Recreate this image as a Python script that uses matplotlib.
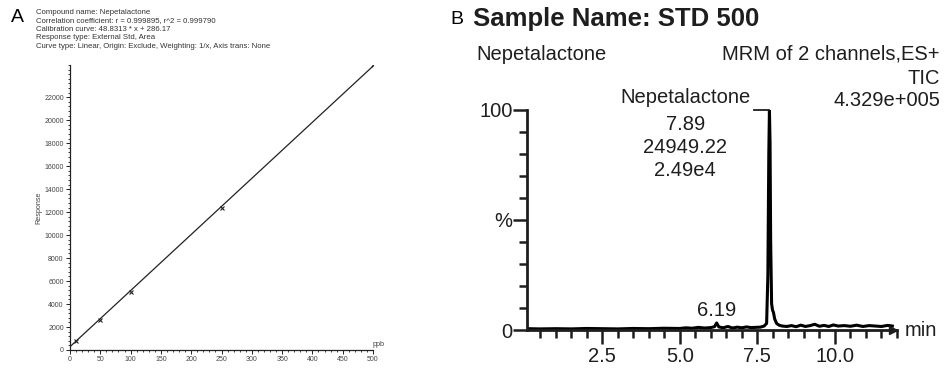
import matplotlib
matplotlib.use("Agg")
import matplotlib.pyplot as plt
import numpy as np
from matplotlib.ticker import MultipleLocator

plt.rcParams["font.family"] = ["Liberation Sans", "DejaVu Sans"]

# ---------- Panel A data ----------
conc_ppb = [10, 50, 100, 250, 500]
response = [780, 2650, 5080, 12380, 24780]
slope = 48.8313
intercept = 286.17
fit_x = [0, 500]
header_lines = [
    "Compound name: Nepetalactone",
    "Correlation coefficient: r = 0.999895, r^2 = 0.999790",
    "Calibration curve: 48.8313 * x + 286.17",
    "Response type: External Std, Area",
    "Curve type: Linear, Origin: Exclude, Weighting: 1/x, Axis trans: None",
]
a_xticks = [0, 50, 100, 150, 200, 250, 300, 350, 400, 450, 500]
a_yticks = [0, 2000, 4000, 6000, 8000, 10000, 12000, 14000, 16000, 18000, 20000, 22000]

# ---------- Panel B data ----------
time_min = [0.1, 0.5, 1.0, 1.5, 2.0, 2.5, 3.0, 3.5, 4.0, 4.5, 5.0, 5.2, 5.4, 5.6,
            5.8, 6.0, 6.12, 6.19, 6.26, 6.4, 6.55, 6.7, 6.85, 7.0, 7.15, 7.3, 7.45,
            7.6, 7.72, 7.8, 7.84, 7.87, 7.89, 7.91, 7.93, 7.96, 7.99, 8.02, 8.06,
            8.12, 8.2, 8.3, 8.45, 8.6, 8.75, 8.9, 9.05, 9.2, 9.35, 9.5, 9.65, 9.8,
            9.95, 10.1, 10.3, 10.5, 10.7, 10.9, 11.1, 11.3, 11.5, 11.7, 11.85]
intensity = [0.6, 0.5, 0.6, 0.5, 0.7, 0.6, 0.5, 0.7, 0.6, 0.8, 0.7, 1.0, 0.8, 1.2,
             0.9, 1.1, 1.5, 3.2, 1.4, 1.0, 1.6, 0.9, 1.3, 1.0, 1.4, 1.1, 1.2,
             1.3, 1.8, 3.0, 25.0, 80.0, 100.0, 85.0, 40.0, 12.0, 9.0, 8.0, 5.0,
             3.0, 2.2, 1.8, 1.6, 2.0, 1.5, 2.2, 1.6, 2.0, 2.6, 1.7, 2.1, 1.6,
             2.3, 1.8, 2.0, 1.7, 2.2, 1.6, 2.0, 1.8, 1.6, 2.1, 1.8]
b_major_ticks = [2.5, 5.0, 7.5, 10.0]
b_tick_labels = ["2.5", "5.0", "7.5", "10.0"]
peak_rt = 7.89
peak_area = "24949.22"
peak_height = "2.49e4"
minor_rt = 6.19

W, H = 945, 368
fig = plt.figure(figsize=(W / 100, H / 100), dpi=100)

def fx(px):
    return px / W

def fy(py):
    return 1 - py / H

# ---------- Panel A ----------
gray = "#444444"
fig.text(fx(11), fy(17), "A", fontsize=14, va="center", ha="left", color="black")
for i, line in enumerate(header_lines):
    fig.text(fx(36), fy(12 + i * 8.6), line, fontsize=5.6, va="center", ha="left", color="#333333")

axA = fig.add_axes([fx(70), fy(350), fx(373) - fx(70), fy(65) - fy(350)])
axA.plot(fit_x, [slope * v + intercept for v in fit_x], color="#222222", lw=0.9)
axA.plot(conc_ppb, response, linestyle="none", marker="x", ms=3.5, mew=0.8, color="#222222")
axA.set_xlim(0, 500)
axA.set_ylim(0, 24800)
axA.spines["top"].set_visible(False)
axA.spines["right"].set_visible(False)
for s in ("left", "bottom"):
    axA.spines[s].set_linewidth(0.9)
    axA.spines[s].set_color("#222222")
axA.set_xticks(a_xticks)
axA.set_yticks(a_yticks)
axA.xaxis.set_minor_locator(MultipleLocator(10))
axA.yaxis.set_minor_locator(MultipleLocator(400))
axA.tick_params(axis="both", which="major", labelsize=5, labelcolor=gray, length=3, width=0.7, pad=1.5, color="#222222")
axA.tick_params(axis="both", which="minor", length=1.6, width=0.6, color="#222222")
axA.set_ylabel("Response", fontsize=5.2, color=gray, labelpad=1)
axA.text(1.0, 0.008, "ppb", transform=axA.transAxes, fontsize=5.2, color=gray, ha="left", va="bottom")

# ---------- Panel B ----------
tc = "#1e1e1e"
fs = 14.5
fig.text(fx(450), fy(19), "B", fontsize=14, va="center", ha="left", color="black")
fig.text(fx(473), fy(19), "Sample Name: STD 500", fontsize=18.5, fontweight="bold",
         va="center", ha="left", color=tc)
fig.text(fx(476), fy(54), "Nepetalactone", fontsize=fs, va="center", ha="left", color=tc)
fig.text(fx(940), fy(54), "MRM of 2 channels,ES+", fontsize=fs, va="center", ha="right", color=tc)
fig.text(fx(940), fy(78), "TIC", fontsize=fs, va="center", ha="right", color=tc)
fig.text(fx(940), fy(100), "4.329e+005", fontsize=fs, va="center", ha="right", color=tc)

x0_px, x1_px = 527, 897
axB = fig.add_axes([fx(x0_px), fy(330), fx(x1_px) - fx(x0_px), fy(110) - fy(330)])
axB.plot(time_min, intensity, color="black", lw=2.2, solid_joinstyle="round")
axB.set_xlim(0.08, 12.0)
axB.set_ylim(0, 100)
axB.spines["top"].set_visible(False)
axB.spines["right"].set_visible(False)
for s in ("left", "bottom"):
    axB.spines[s].set_linewidth(2.0)
    axB.spines[s].set_color(tc)
axB.set_xticks(b_major_ticks)
axB.set_xticklabels(b_tick_labels)
axB.xaxis.set_minor_locator(MultipleLocator(0.5))
axB.set_yticks([0, 50, 100])
axB.set_yticklabels(["0", "%", "100"])
axB.yaxis.set_minor_locator(MultipleLocator(10))
axB.tick_params(axis="both", which="major", labelsize=fs, labelcolor=tc, length=10, width=1.8, color=tc, pad=0.5)
axB.tick_params(axis="x", which="minor", length=6, width=1.8, color=tc)
axB.tick_params(axis="y", which="minor", length=5.5, width=1.8, color=tc)
axB.tick_params(axis="x", which="major", length=10, pad=2)
axB.plot(11.88, 0, marker=">", ms=6, color=tc, clip_on=False)
axB.text(1.022, 0, "min", transform=axB.get_yaxis_transform(), fontsize=fs, color=tc, va="center", ha="left")

# peak annotations
label_x = peak_rt - 2.71
axB.plot([peak_rt - 0.5, peak_rt], [100, 100], color=tc, lw=1.3, clip_on=False)
axB.text(label_x, 101.5, "Nepetalactone", fontsize=fs, color=tc, ha="center", va="bottom")
axB.text(label_x, 93.5, f"{peak_rt:.2f}", fontsize=fs, color=tc, ha="center", va="center")
axB.text(label_x, 83, peak_area, fontsize=fs, color=tc, ha="center", va="center")
axB.text(label_x, 72.5, peak_height, fontsize=fs, color=tc, ha="center", va="center")
axB.text(minor_rt, 4.5, f"{minor_rt:.2f}", fontsize=fs, color=tc, ha="center", va="bottom")

fig.savefig("out.png", dpi=100)
